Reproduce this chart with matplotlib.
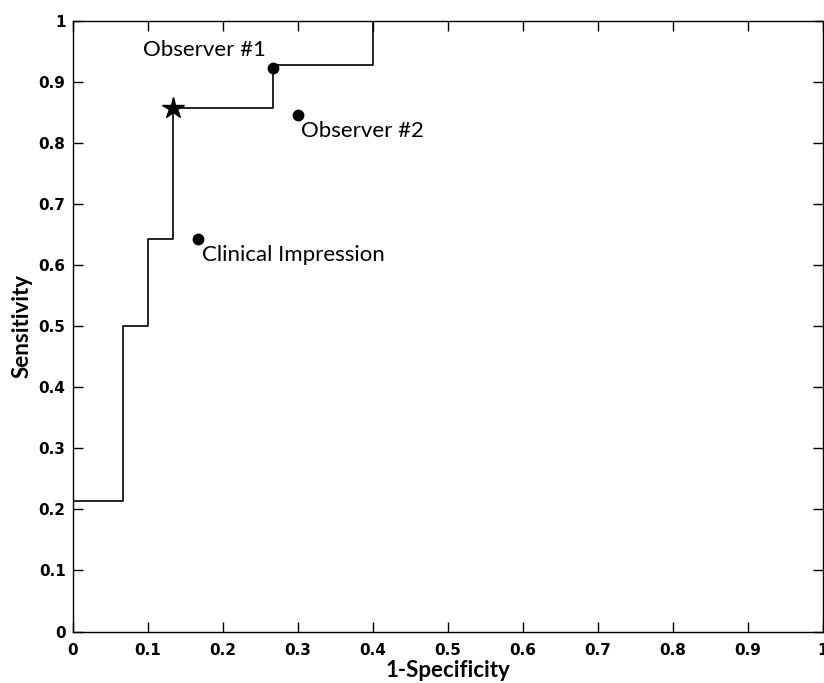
import numpy as np
import matplotlib
matplotlib.use("Agg")
import matplotlib.pyplot as plt

# ROC step curve (1-specificity, sensitivity)
roc_fpr = [0, 1/15, 1/15, 1.5/15, 1.5/15, 2/15, 2/15, 4/15, 4/15, 6/15, 6/15, 1.0]
roc_tpr = [3/14, 3/14, 7/14, 7/14, 9/14, 9/14, 12/14, 12/14, 13/14, 13/14, 1.0, 1.0]

# operating point on the curve
star_x = [2/15]
star_y = [12/14]

# observers
obs_names = ["Observer #1", "Observer #2", "Clinical Impression"]
obs_x = [0.267, 0.300, 0.167]
obs_y = [0.923, 0.846, 0.643]

x_ticks = np.round(np.arange(0, 1.01, 0.1), 1)
y_ticks = np.round(np.arange(0, 1.01, 0.1), 1)
tick_labels = ["0"] + [f"{v:.1f}" for v in x_ticks[1:-1]] + ["1"]

fig = plt.figure(figsize=(8.24, 6.83), dpi=100)
ax = fig.add_axes([0.088, 0.0754, 0.9108, 0.894])

ax.plot(roc_fpr, roc_tpr, color="black", lw=1.2)
ax.plot(star_x, star_y, marker="*", color="black", ms=16, ls="none")
ax.plot(obs_x, obs_y, "o", color="black", ms=7.5)

txt_font = dict(family="Lato", fontsize=16)
ax.text(obs_x[0] - 0.009, obs_y[0] + 0.029, obs_names[0], ha="right", va="center", **txt_font)
ax.text(obs_x[1] + 0.005, obs_y[1] - 0.026, obs_names[1], ha="left", va="center", **txt_font)
ax.text(obs_x[2] + 0.005, obs_y[2] - 0.027, obs_names[2], ha="left", va="center", **txt_font)

ax.set_xlim(0, 1)
ax.set_ylim(0, 1)
ax.set_xticks(x_ticks)
ax.set_yticks(y_ticks)
ax.set_xticklabels(tick_labels, fontweight="bold", family="DejaVu Sans", fontsize=11)
ax.set_yticklabels(tick_labels, fontweight="bold", family="DejaVu Sans", fontsize=11)
ax.tick_params(direction="in", length=7, width=1, top=True, right=True)
ax.tick_params(axis="x", pad=8)
ax.tick_params(axis="y", pad=5)
for sp in ax.spines.values():
    sp.set_linewidth(1)

ax.set_xlabel("1-Specificity", family="Lato", fontsize=16, fontweight="bold", labelpad=2)
ax.set_ylabel("Sensitivity", family="Lato", fontsize=16, fontweight="bold", labelpad=4)

fig.savefig("out.png", dpi=100)
